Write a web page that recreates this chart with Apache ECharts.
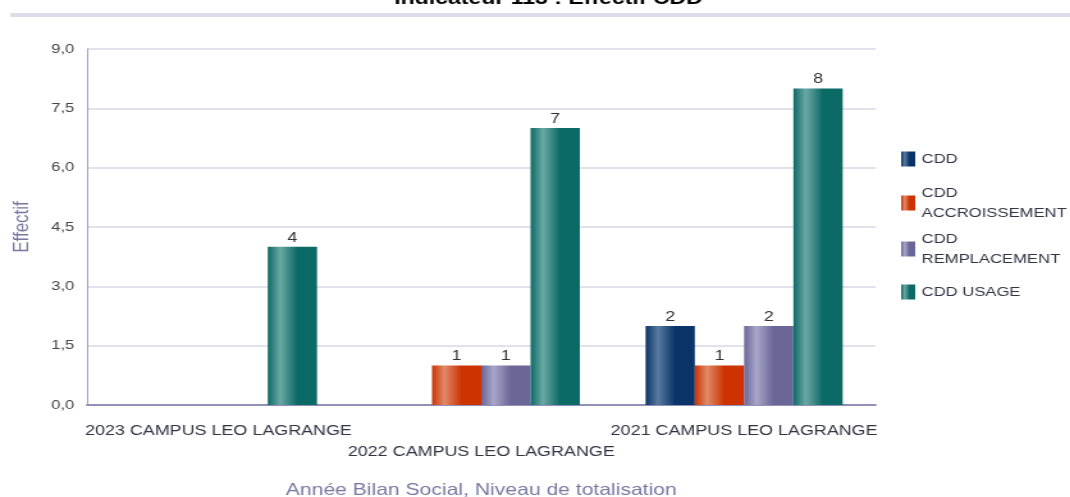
<!DOCTYPE html>
<html>
<head>
<meta charset="utf-8">
<script src="https://cdn.jsdelivr.net/npm/echarts@6/dist/echarts.min.js"></script>
<style>
  html, body { margin: 0; padding: 0; background: #fff; overflow: hidden; }
  /* the reference picture is stretched sideways, so the chart is too */
  #chart { width: 836px; height: 497px; transform: scaleX(1.28); transform-origin: 0 0; }
</style>
</head>
<body>
<div id="chart"></div>
<script>
// categories and values
const categories = ['2023 CAMPUS LEO LAGRANGE', '2022 CAMPUS LEO LAGRANGE', '2021 CAMPUS LEO LAGRANGE'];
const seriesNames = ['CDD', 'CDD\nACCROISSEMENT', 'CDD\nREMPLACEMENT', 'CDD USAGE'];
const cdd = [null, null, 2];
const cddAccroissement = [null, 1, 1];
const cddRemplacement = [null, 1, 2];
const cddUsage = [4, 7, 8];
const yTicks = [0, 1.5, 3, 4.5, 6, 7.5, 9];

const font = '"Liberation Sans", Arial, sans-serif';

// gradient per bar colour: light left, dark middle
function shade(light, dark) {
  return new echarts.graphic.LinearGradient(0, 0, 1, 0, [
    { offset: 0, color: dark },
    { offset: 0.25, color: light },
    { offset: 0.6, color: dark },
    { offset: 1, color: dark }
  ]);
}
const colors = [
  shade('#5a7aa0', '#0a3468'),
  shade('#e08a6a', '#cc3300'),
  shade('#a8a6c8', '#6a6698'),
  shade('#6aa8a4', '#0c6a66')
];

const values = [cdd, cddAccroissement, cddRemplacement, cddUsage];
// legend rows sit at uneven heights in the reference
const legendTops = [144, 178, 224, 277];

let chart = echarts.init(document.getElementById('chart'));

let option = {
  animation: false,
  textStyle: { fontFamily: font },
  title: {
    text: 'Indicateur 113 : Effectif CDD',
    left: 303,
    top: -15,
    textStyle: { fontSize: 18, fontWeight: 'bold', color: '#000', fontFamily: font }
  },
  graphic: [{
    type: 'rect',
    shape: { x: 8, y: 13, width: 830, height: 4 },
    style: { fill: '#dcdce8' }
  }],
  legend: seriesNames.map((n, i) => ({
    orient: 'vertical',
    left: 699,
    top: legendTops[i],
    itemWidth: 11,
    itemHeight: 15,
    icon: 'rect',
    textStyle: { fontSize: 13, color: '#333344', lineHeight: 20, fontFamily: font },
    data: [n]
  })),
  grid: { left: 68, right: 152, top: 49, bottom: 92, outerBoundsMode: 'none' },
  xAxis: {
    type: 'category',
    data: categories,
    name: 'Année Bilan Social, Niveau de totalisation',
    nameLocation: 'middle',
    nameGap: 77,
    nameTextStyle: { fontSize: 16.5, color: '#7878a0', fontFamily: font },
    axisLine: { lineStyle: { color: '#9090b8', width: 2 } },
    axisTick: { show: false },
    axisLabel: {
      interval: 0,
      fontSize: 14,
      color: '#333344',
      lineHeight: 21,
      margin: 16,
      formatter: (v, i) => (i % 2 ? '\n' + v : v)
    }
  },
  yAxis: {
    type: 'value',
    min: yTicks[0],
    max: yTicks[yTicks.length - 1],
    interval: 1.5,
    name: 'Effectif',
    nameLocation: 'middle',
    nameGap: 42,
    nameTextStyle: { fontSize: 17, color: '#7878a0', fontFamily: font },
    axisLine: { show: true, lineStyle: { color: '#9a9ac0', width: 1 } },
    axisTick: { show: false },
    splitLine: { lineStyle: { color: '#e2e2ec', width: 2 } },
    axisLabel: {
      fontSize: 13,
      color: '#444',
      margin: 10,
      formatter: v => v.toFixed(1).replace('.', ',')
    }
  },
  series: seriesNames.map((n, i) => ({
    name: n,
    type: 'bar',
    data: values[i],
    barGap: '0%',
    barCategoryGap: '25%',
    itemStyle: { color: colors[i] },
    label: {
      show: true,
      position: 'top',
      distance: 2,
      fontSize: 14,
      color: '#333'
    }
  }))
};

chart.setOption(option);
</script>
</body>
</html>
